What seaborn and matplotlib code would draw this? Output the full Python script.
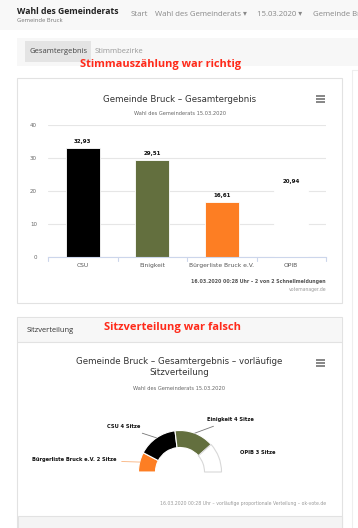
import seaborn as sns
import numpy as np
import pandas as pd
import matplotlib.pyplot as plt
from matplotlib.patches import Rectangle

# data
parties = ["CSU", "Einigkeit", "Bürgerliste Bruck e.V.", "OPIB"]
votes = [32.93, 29.51, 16.61, 20.94]
party_colors = ["#000000", "#636f3e", "#fd7e23", "#ffffff"]
y_ticks = [0, 10, 20, 30, 40]

seat_parties = ["Bürgerliste Bruck e.V.", "CSU", "Einigkeit", "OPIB"]
seats = [2, 4, 4, 3]
seat_colors = ["#fd7e23", "#000000", "#636f3e", "#ffffff"]

sns.set_theme(style="white")
plt.rcParams['font.family'] = ['DejaVu Sans']

W, H = 358, 528
fig = plt.figure(figsize=(W / 100, H / 100), dpi=100)
fig.patch.set_facecolor("white")

# page background in pixel coords
bg = fig.add_axes([0, 0, 1, 1], zorder=0)
bg.set_xlim(0, W)
bg.set_ylim(H, 0)
bg.axis("off")

def box(x0, y0, x1, y1, fc="none", ec="none", lw=0.8):
    bg.add_patch(Rectangle((x0, y0), x1 - x0, y1 - y0, facecolor=fc, edgecolor=ec, lw=lw))

page = ["Open Sans", "DejaVu Sans"]
box(0, 0, W, 30, fc="#f8f8f8")
bg.text(17, 12, "Wahl des Gemeinderats", family=page, weight="bold", fontsize=6.2, color="#222", va="center")
bg.text(17, 20, "Gemeinde Bruck", family=page, fontsize=4.2, color="#777", va="center")
for x, t in [(131, "Start"), (155, "Wahl des Gemeinderats ▾"), (257, "15.03.2020 ▾"), (313, "Gemeinde Bruck")]:
    bg.text(x, 14, t, family=page, fontsize=5.6, color="#888", va="center")

# tabs
box(17, 38, W, 66, fc="#f7f7f7")
box(25, 41, 91, 62, fc="#e4e4e4")
bg.text(29, 51.5, "Gesamtergebnis", family=page, fontsize=5.5, color="#444", va="center")
bg.text(95, 51.5, "Stimmbezirke", family=page, fontsize=5.5, color="#999", va="center")
bg.text(80, 65, "Stimmauszählung war richtig", family=page, weight="bold", fontsize=7.9, color="#ff2a1a", va="center")

# cards
box(17, 78, 342, 303, ec="#e2e2e2")
box(352, 70, 362, H + 5, ec="#eeeeee")
box(17, 317, 342, H + 5, ec="#e2e2e2")
box(17.5, 317.5, 341.5, 342, fc="#f7f7f7")
bg.plot([17, 342], [342, 342], color="#e2e2e2", lw=0.8)
box(17.5, 516, 341.5, H + 5, fc="#f4f4f4", ec="#e2e2e2")
bg.text(27, 330, "Sitzverteilung", family=page, fontsize=5.4, color="#333", va="center")
bg.text(104, 327.5, "Sitzverteilung war falsch", family=page, weight="bold", fontsize=8.0, color="#ff2a1a", va="center")

def burger(cx, cy):
    for dy in (-3, 0, 3):
        bg.plot([cx - 4.5, cx + 4.5], [cy + dy, cy + dy], color="#666", lw=1.1, solid_capstyle="butt")

# chart 1 texts
bg.text(180, 99, "Gemeinde Bruck – Gesamtergebnis", fontsize=6.2, color="#333", ha="center", va="center")
bg.text(180, 113.5, "Wahl des Gemeinderats 15.03.2020", fontsize=3.7, color="#666", ha="center", va="center")
burger(320, 99)
bg.text(326, 281, "16.03.2020 00:28 Uhr – 2 von 2 Schnellmeldungen", fontsize=3.4, weight="bold", color="#555", ha="right", va="center")
bg.text(326, 289, "votemanager.de", fontsize=3.3, color="#999", ha="right", va="center")

# bar chart
ax = fig.add_axes([48 / W, (H - 257) / H, 278 / W, 132 / H], zorder=2)
ax.patch.set_alpha(0)
df = pd.DataFrame({"party": parties, "votes": votes})
sns.barplot(data=df, x="party", y="votes", hue="party", palette=party_colors,
            width=0.49, saturation=1, legend=False, ax=ax, edgecolor="white", linewidth=0.6)
ax.set_ylim(0, 40)
ax.set_yticks(y_ticks)
ax.set_xlim(-0.5, len(parties) - 0.5)
ax.yaxis.grid(True, color="#e6e6e6", lw=0.8)
ax.set_axisbelow(True)
for s in ["top", "right", "left"]:
    ax.spines[s].set_visible(False)
ax.spines["bottom"].set_color("#ccd6eb")
ax.spines["bottom"].set_linewidth(0.8)
ax.set_xlabel("")
ax.set_ylabel("")
ax.tick_params(axis="y", length=0, labelsize=4, labelcolor="#666", pad=8)
ax.tick_params(axis="x", length=0, labelsize=4.3, labelcolor="#555", pad=4)
ax.set_xticks(range(len(parties)), parties)
for b in np.arange(-0.5, len(parties), 1.0):
    ax.plot([b, b], [0, -1.2], color="#ccd6eb", lw=0.8, clip_on=False)
for i, v in enumerate(votes):
    ax.text(i, v + 1.2, f"{v:.2f}".replace(".", ","), ha="center", va="bottom",
            fontsize=4, weight="bold", color="#111")

# chart 2 texts
bg.text(179, 362, "Gemeinde Bruck – Gesamtergebnis – vorläufige", fontsize=6.2, color="#333", ha="center", va="center")
bg.text(179, 372.5, "Sitzverteilung", fontsize=6.2, color="#333", ha="center", va="center")
bg.text(179, 388, "Wahl des Gemeinderats 15.03.2020", fontsize=3.7, color="#666", ha="center", va="center")
burger(320, 363)
bg.text(326, 503, "16.03.2020 00:28 Uhr – vorläufige proportionale Verteilung – ok-vote.de",
        fontsize=3.3, color="#999", ha="right", va="center")

# semi donut, 1 data unit = 1 px
dx = fig.add_axes([30 / W, (H - 544) / H, 300 / W, 144 / H], zorder=2)
total = sum(seats)
wedges, _ = dx.pie(seats + [total], colors=seat_colors + ["none"], startangle=180, counterclock=False,
                   radius=41.5, wedgeprops=dict(width=17, edgecolor="white", lw=0.8), frame=True)
wedges[-1].set_visible(False)
wedges[3].set_edgecolor("#d8d8d8")
dx.set_xlim(-150, 150)
dx.set_ylim(-72, 72)
dx.axis("off")

label_pos = {
    "Bürgerliste Bruck e.V.": (-63, 12, "right"),
    "CSU": (-40, 45, "right"),
    "Einigkeit": (27, 52, "left"),
    "OPIB": (60, 19, "left"),
}
acc = 0
for name, n, c in zip(seat_parties, seats, seat_colors):
    mid = np.deg2rad(180 - (acc + n / 2) / total * 180)
    acc += n
    lx, ly, ha = label_pos[name]
    px, py = 41.5 * np.cos(mid), 41.5 * np.sin(mid)
    line_c = "#f9b27d" if name.startswith("B") else ("none" if name == "OPIB" else "#777")
    dx.annotate(f"{name} {n} Sitze", xy=(px, py), xytext=(lx, ly), ha=ha, va="center",
                fontsize=3.7, weight="bold", color="#111",
                arrowprops=dict(arrowstyle="-", color=line_c, lw=0.6, shrinkA=1, shrinkB=0))

fig.savefig("out.png", dpi=100)
